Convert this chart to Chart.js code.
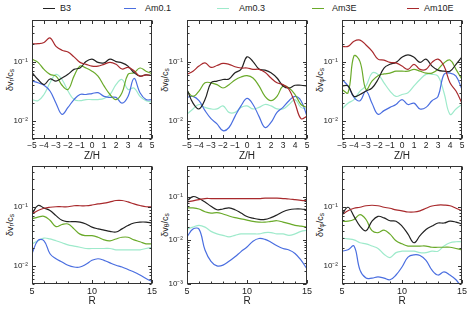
<!DOCTYPE html>
<html><head><meta charset="utf-8">
<script src="https://cdn.jsdelivr.net/npm/chart.js@4.4.1/dist/chart.umd.min.js"></script>
<style>
body{margin:0;width:474px;height:310px;background:#fff;position:relative;overflow:hidden;font-family:"Liberation Sans",Arial,sans-serif;color:#222}
canvas{position:absolute}
.ll{position:absolute;top:8px;height:0;border-top:1.2px solid #000;width:12px}
.lt{position:absolute;top:2px;font-size:9px;line-height:12px}
.yt{position:absolute;font-size:9px;line-height:10px;white-space:nowrap;transform:translate(-50%,-50%) rotate(-90deg)}
.yt sub{font-size:6.5px;vertical-align:-1.5px}
</style></head><body>
<div class="ll" style="left:43px;border-color:#222"></div><div class="lt" style="left:60px">B3</div>
<div class="ll" style="left:124px;border-color:#4a6ee0"></div><div class="lt" style="left:145px">Am0.1</div>
<div class="ll" style="left:217px;border-color:#9eeacb"></div><div class="lt" style="left:239px">Am0.3</div>
<div class="ll" style="left:312px;border-color:#6aaa2a"></div><div class="lt" style="left:332px">Am3E</div>
<div class="ll" style="left:407px;border-color:#a8292c"></div><div class="lt" style="left:424px">Am10E</div>

<div class="yt" style="left:11px;top:80px">δv<sub>r</sub>/c<sub>s</sub></div>
<div class="yt" style="left:166px;top:80px">δv<sub>θ</sub>/c<sub>s</sub></div>
<div class="yt" style="left:321px;top:80px">δv<sub>φ</sub>/c<sub>s</sub></div>
<div class="yt" style="left:11px;top:225px">δv<sub>r</sub>/c<sub>s</sub></div>
<div class="yt" style="left:166px;top:225px">δv<sub>θ</sub>/c<sub>s</sub></div>
<div class="yt" style="left:321px;top:225px">δv<sub>φ</sub>/c<sub>s</sub></div>

<canvas id="c1" width="160" height="162" style="left:0;top:0"></canvas>
<canvas id="c2" width="160" height="162" style="left:155px;top:0"></canvas>
<canvas id="c3" width="164" height="162" style="left:310px;top:0"></canvas>
<canvas id="c4" width="160" height="154" style="left:0;top:156px"></canvas>
<canvas id="c5" width="160" height="154" style="left:155px;top:156px"></canvas>
<canvas id="c6" width="164" height="154" style="left:310px;top:156px"></canvas>
<script>
// ---------- data ----------
const seriesNames = ['B3','Am0.1','Am0.3','Am3E','Am10E'];
const seriesColors = ['#222222','#4a6ee0','#9eeacb','#6aaa2a','#a8292c'];
const zH = [-5,-4.5,-4,-3.5,-3,-2.5,-2,-1.5,-1,-0.5,0,0.5,1,1.5,2,2.5,3,3.5,4,4.5,5];
const rR = [5,5.5,6,6.5,7,7.5,8,8.5,9,9.5,10,10.5,11,11.5,12,12.5,13,13.5,14,14.5,15];
const zTicks = [-5,-4,-3,-2,-1,0,1,2,3,4,5];
const rTicks = [5,10,15];

// top-left: dv_r vs Z/H
const vrZ_B3    = [0.066,0.05,0.041,0.051,0.047,0.053,0.061,0.074,0.078,0.1,0.11,0.097,0.095,0.11,0.1,0.095,0.084,0.065,0.057,0.06,0.058];
const vrZ_Am01  = [0.047,0.044,0.04,0.032,0.02,0.013,0.017,0.023,0.028,0.028,0.029,0.03,0.026,0.025,0.025,0.02,0.026,0.052,0.03,0.023,0.023];
const vrZ_Am03  = [0.023,0.022,0.028,0.044,0.061,0.05,0.032,0.023,0.022,0.023,0.023,0.023,0.024,0.028,0.041,0.05,0.034,0.036,0.026,0.022,0.021];
const vrZ_Am3E  = [0.11,0.097,0.074,0.061,0.057,0.04,0.034,0.057,0.084,0.078,0.069,0.057,0.039,0.028,0.023,0.03,0.061,0.065,0.078,0.069,0.063];
const vrZ_Am10E = [0.2,0.2,0.21,0.25,0.18,0.155,0.145,0.12,0.097,0.09,0.084,0.084,0.09,0.097,0.09,0.075,0.08,0.07,0.057,0.06,0.058];
// top-middle: dv_theta vs Z/H
const vtZ_B3    = [0.034,0.02,0.016,0.023,0.044,0.047,0.05,0.051,0.065,0.074,0.12,0.1,0.075,0.072,0.065,0.053,0.039,0.036,0.04,0.04,0.039];
const vtZ_Am01  = [0.025,0.026,0.022,0.015,0.011,0.009,0.0069,0.0078,0.012,0.018,0.024,0.019,0.012,0.0078,0.0095,0.014,0.017,0.022,0.026,0.022,0.012];
const vtZ_Am03  = [0.013,0.016,0.019,0.017,0.016,0.016,0.018,0.014,0.014,0.017,0.018,0.016,0.017,0.019,0.018,0.016,0.016,0.019,0.023,0.017,0.016];
const vtZ_Am3E  = [0.032,0.026,0.032,0.044,0.044,0.041,0.036,0.041,0.049,0.055,0.058,0.053,0.039,0.026,0.022,0.026,0.039,0.036,0.028,0.019,0.017];
const vtZ_Am10E = [0.061,0.069,0.084,0.095,0.08,0.086,0.093,0.09,0.082,0.078,0.078,0.074,0.074,0.066,0.053,0.044,0.041,0.034,0.02,0.011,0.012];
// top-right: dv_phi vs Z/H
const vpZ_B3    = [0.039,0.039,0.026,0.028,0.032,0.036,0.05,0.078,0.09,0.097,0.118,0.13,0.118,0.097,0.11,0.084,0.072,0.069,0.069,0.09,0.12];
const vpZ_Am01  = [0.05,0.039,0.025,0.022,0.032,0.02,0.013,0.015,0.017,0.019,0.023,0.019,0.02,0.016,0.017,0.022,0.026,0.061,0.064,0.057,0.034];
const vpZ_Am03  = [0.016,0.02,0.023,0.032,0.039,0.064,0.061,0.044,0.032,0.026,0.028,0.03,0.039,0.05,0.061,0.061,0.057,0.03,0.013,0.016,0.019];
const vpZ_Am3E  = [0.034,0.03,0.125,0.1,0.034,0.047,0.058,0.062,0.064,0.069,0.069,0.069,0.074,0.069,0.064,0.064,0.074,0.095,0.106,0.074,0.05];
const vpZ_Am10E = [0.18,0.18,0.22,0.23,0.19,0.15,0.11,0.106,0.097,0.095,0.084,0.074,0.09,0.074,0.074,0.097,0.11,0.084,0.044,0.032,0.02];
// bottom-left: dv_r vs R
const vrR_B3    = [0.077,0.107,0.097,0.088,0.072,0.06,0.057,0.057,0.056,0.052,0.046,0.043,0.041,0.039,0.038,0.043,0.049,0.054,0.056,0.056,0.054];
const vrR_Am01  = [0.0163,0.0274,0.027,0.0163,0.0134,0.0118,0.0104,0.0097,0.0097,0.0108,0.0126,0.0134,0.0126,0.0114,0.0104,0.0097,0.0088,0.008,0.0071,0.0062,0.0055];
const vrR_Am03  = [0.024,0.027,0.03,0.029,0.027,0.025,0.023,0.022,0.021,0.02,0.02,0.02,0.02,0.02,0.019,0.019,0.019,0.019,0.019,0.02,0.021];
const vrR_Am3E  = [0.064,0.068,0.07,0.06,0.047,0.051,0.052,0.043,0.035,0.033,0.033,0.031,0.028,0.027,0.029,0.031,0.031,0.028,0.026,0.024,0.024];
const vrR_Am10E = [0.077,0.088,0.096,0.1,0.102,0.102,0.102,0.106,0.106,0.106,0.109,0.114,0.117,0.123,0.13,0.13,0.123,0.114,0.107,0.102,0.102];
// bottom-middle: dv_theta vs R
const vtR_B3    = [0.08,0.1,0.09,0.075,0.06,0.05,0.052,0.055,0.05,0.042,0.035,0.032,0.03,0.03,0.033,0.038,0.045,0.05,0.052,0.052,0.05];
const vtR_Am01  = [0.012,0.018,0.018,0.006,0.0033,0.0026,0.0027,0.0033,0.0042,0.0055,0.007,0.0095,0.011,0.0105,0.009,0.0075,0.0065,0.006,0.005,0.0035,0.0022];
const vtR_Am03  = [0.018,0.02,0.022,0.02,0.016,0.014,0.013,0.012,0.013,0.014,0.014,0.014,0.014,0.015,0.015,0.014,0.014,0.013,0.014,0.016,0.017];
const vtR_Am3E  = [0.055,0.055,0.052,0.045,0.042,0.043,0.04,0.036,0.033,0.031,0.029,0.027,0.026,0.026,0.027,0.028,0.026,0.024,0.022,0.021,0.02];
const vtR_Am10E = [0.075,0.08,0.085,0.09,0.09,0.09,0.09,0.09,0.09,0.09,0.09,0.09,0.09,0.092,0.092,0.092,0.09,0.088,0.085,0.082,0.08];
// bottom-right: dv_phi vs R
const vpR_B3    = [0.075,0.1,0.07,0.048,0.04,0.058,0.07,0.066,0.059,0.058,0.048,0.035,0.025,0.033,0.042,0.048,0.054,0.054,0.058,0.056,0.052];
const vpR_Am01  = [0.018,0.019,0.022,0.0086,0.0063,0.0063,0.0066,0.0063,0.0059,0.0071,0.0097,0.0143,0.0156,0.0152,0.0126,0.0086,0.0071,0.008,0.0071,0.0059,0.0043];
const vpR_Am03  = [0.03,0.029,0.028,0.025,0.024,0.022,0.02,0.016,0.014,0.017,0.018,0.018,0.018,0.017,0.017,0.018,0.018,0.022,0.025,0.026,0.026];
const vpR_Am3E  = [0.058,0.058,0.062,0.075,0.062,0.04,0.037,0.041,0.035,0.027,0.024,0.022,0.022,0.022,0.022,0.021,0.021,0.021,0.021,0.02,0.019];
const vpR_Am10E = [0.075,0.087,0.096,0.1,0.106,0.108,0.106,0.1,0.096,0.09,0.087,0.083,0.083,0.087,0.096,0.105,0.109,0.109,0.106,0.096,0.087];

// ---------- drawing ----------
const sup = {'0.1':'10\u207B\u00B9','0.01':'10\u207B\u00B2','0.001':'10\u207B\u00B3'};
const framePlugin = {
  id:'frame',
  afterDatasetsDraw(chart){
    const {ctx, chartArea:a, scales:{x,y}} = chart;
    const o = chart.options.plugins.frame;
    const L=Math.round(a.left)+0.5, R=Math.round(a.right)-0.5, T=Math.round(a.top)+0.5, B=Math.round(a.bottom)-0.5;
    ctx.save();
    ctx.strokeStyle='#333'; ctx.lineWidth=1;
    ctx.beginPath();
    for (let v=x.min; v<=x.max+1e-9; v+=o.xMinor){
      const p=Math.round(x.getPixelForValue(v))+0.5;
      const major = o.xMajor.some(t=>Math.abs(t-v)<1e-9);
      const len = major?3.5:2;
      ctx.moveTo(p,B); ctx.lineTo(p,B-len);
      ctx.moveTo(p,T); ctx.lineTo(p,T+len);
    }
    for (let d=-4; d<=0; d++){
      for (let m=1; m<=9; m++){
        const v=m*Math.pow(10,d);
        if (v<y.min*0.999||v>y.max*1.001) continue;
        const p=Math.round(y.getPixelForValue(v))+0.5;
        const len = m===1?3.5:2;
        ctx.moveTo(L,p); ctx.lineTo(L+len,p);
        ctx.moveTo(R,p); ctx.lineTo(R-len,p);
      }
    }
    ctx.stroke();
    ctx.strokeRect(L,T,R-L,B-T);
    ctx.restore();
  }
};

function makePanel(id, xs, ys, cfg){
  const datasets = ys.map((arr,i)=>({
    label: seriesNames[i],
    data: arr.map((v,k)=>({x:xs[k], y:v})),
    borderColor: seriesColors[i], borderWidth:1.2, pointRadius:0,
    tension:0.4, fill:false
  }));
  const order=[2,1,3,0,4];
  datasets.forEach((d,i)=>{ d.order = -order.indexOf(i); });
  new Chart(document.getElementById(id), {
    type:'line',
    data:{datasets},
    options:{
      responsive:false, animation:false, devicePixelRatio:1,
      layout:{padding:{top:cfg.padTop, right:cfg.padRight, left:0, bottom:0}},
      plugins:{legend:{display:false}, tooltip:{enabled:false},
        frame:{xMinor:cfg.xMinor, xMajor:cfg.xTicks}},
      scales:{
        x:{type:'linear', min:cfg.xTicks[0], max:cfg.xTicks[cfg.xTicks.length-1],
           afterBuildTicks:s=>{s.ticks=cfg.xTicks.map(v=>({value:v}));},
           afterFit:s=>{s.height=cfg.xH;},
           grid:{display:false, drawTicks:false}, border:{display:false},
           ticks:{color:'#222', font:{size:cfg.xFont, family:'Liberation Sans'}, padding:2, maxRotation:0, minRotation:0, autoSkip:false,
             callback:v=>String(v).replace('-','\u2212')},
           title:{display:true, text:cfg.xTitle, color:'#222', font:{size:10, family:'Liberation Sans'}, padding:{top:0,bottom:cfg.titlePad}}},
        y:{type:'logarithmic', min:cfg.yMin, max:cfg.yMax,
           afterBuildTicks:s=>{s.ticks=cfg.yTicks.map(v=>({value:v}));},
           afterFit:s=>{s.width=32;},
           grid:{display:false, drawTicks:false}, border:{display:false},
           ticks:{color:'#222', font:{size:8, family:'Liberation Sans'}, padding:4, autoSkip:false,
             callback:v=>sup[String(v)]||''}}
      }
    },
    plugins:[framePlugin]
  });
}

const topCfg = {padTop:20, xH:23, xTicks:zTicks, xMinor:1, xFont:8.5, xTitle:'Z/H', titlePad:0, yMin:0.005, yMax:0.5, yTicks:[0.01,0.1]};
const botCfg = {padTop:10, xH:26, xTicks:rTicks, xMinor:1, xFont:9, xTitle:'R', titlePad:3, yMin:0.005, yMax:0.5, yTicks:[0.01,0.1]};

makePanel('c1', zH, [vrZ_B3,vrZ_Am01,vrZ_Am03,vrZ_Am3E,vrZ_Am10E], {...topCfg, padRight:8});
makePanel('c2', zH, [vtZ_B3,vtZ_Am01,vtZ_Am03,vtZ_Am3E,vtZ_Am10E], {...topCfg, padRight:8});
makePanel('c3', zH, [vpZ_B3,vpZ_Am01,vpZ_Am03,vpZ_Am3E,vpZ_Am10E], {...topCfg, padRight:12});
makePanel('c4', rR, [vrR_B3,vrR_Am01,vrR_Am03,vrR_Am3E,vrR_Am10E], {...botCfg, padRight:8});
makePanel('c5', rR, [vtR_B3,vtR_Am01,vtR_Am03,vtR_Am3E,vtR_Am10E], {...botCfg, padRight:8, yMin:0.001, yTicks:[0.001,0.01,0.1]});
makePanel('c6', rR, [vpR_B3,vpR_Am01,vpR_Am03,vpR_Am3E,vpR_Am10E], {...botCfg, padRight:12});
</script>
</body></html>
